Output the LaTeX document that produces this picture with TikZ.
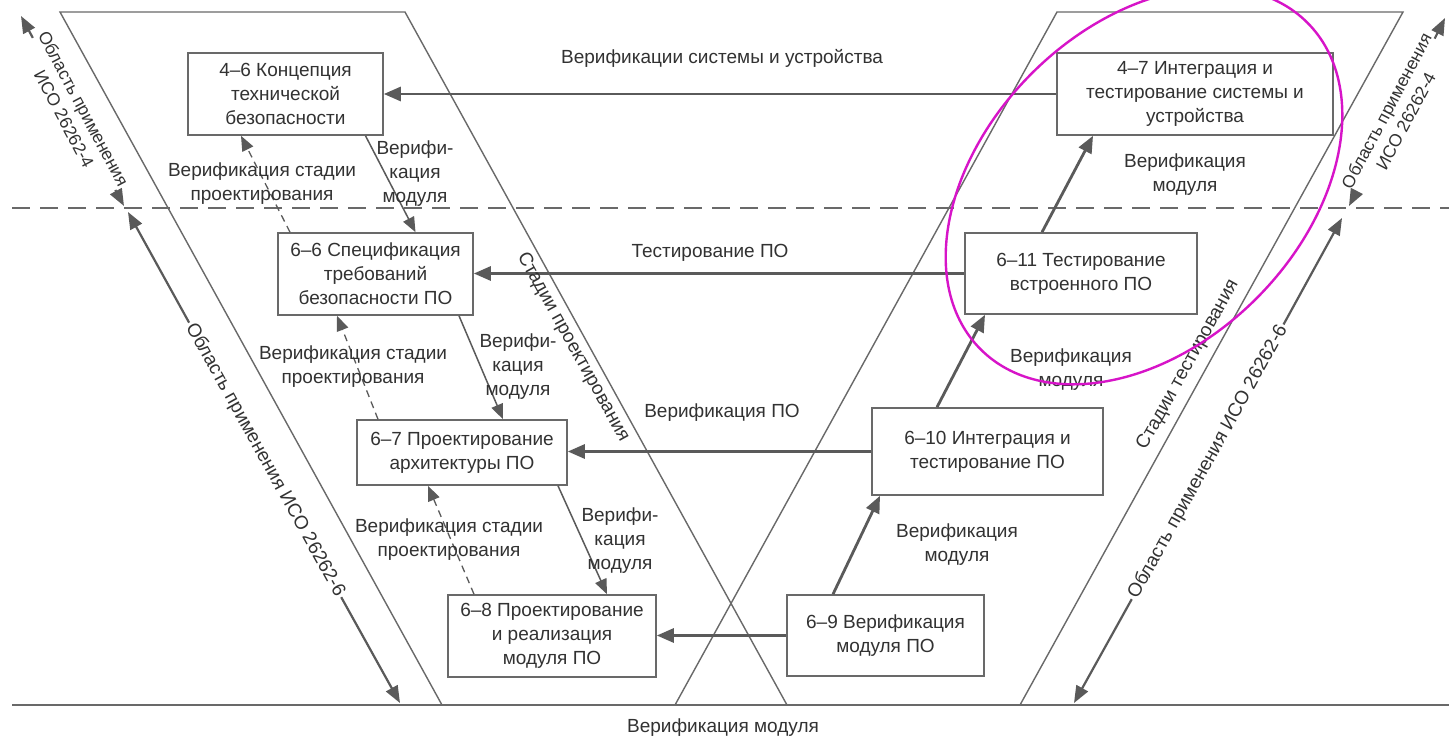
\documentclass[tikz,border=0pt]{standalone}
\usepackage{fontspec}
\setmainfont{Liberation Sans}
\usetikzlibrary{arrows.meta,calc}
\definecolor{ink}{RGB}{50,50,50}
\definecolor{edge}{RGB}{105,105,105}
\definecolor{arr}{RGB}{90,90,90}
\definecolor{ring}{RGB}{215,20,200}
\begin{document}
\begin{tikzpicture}[x=1pt,y=-1pt,
  font=\fontsize{19}{24}\selectfont, text=ink,
  box/.style={draw=edge, line width=1.6pt, fill=white, align=center, inner sep=0pt},
  frameline/.style={draw=edge, line width=1.4pt},
  lbl/.style={align=center, inner sep=1pt},
  harr/.style={draw=arr, line width=2.8pt, -{Triangle[length=17pt,width=14pt]}},
  uarr/.style={draw=arr, line width=2.8pt, -{Triangle[length=17pt,width=14pt]}},
  varr/.style={draw=arr, line width=1.5pt, -{Triangle[length=15pt,width=12pt]}},
  darr/.style={draw=arr, line width=1.3pt, dash pattern=on 7pt off 5pt, -{Triangle[length=15pt,width=12pt]}},
  rangearr/.style={draw=arr, line width=2.2pt, -{Triangle[length=17pt,width=13pt]}},
  rangetext/.style={align=center, inner sep=2pt}
]
\fill[white] (0,0) rectangle (1449,739);
\clip (0,0) rectangle (1449,739);

% design and test stage frames
\draw[frameline] (442,705) -- (60,12) -- (405,12) -- (787,705);
\draw[frameline] (675,705) -- (1057,12) -- (1403,12) -- (1020,705);
\draw[draw=edge, line width=1.8pt] (12,705) -- (1449,705);
\draw[draw=edge, line width=1.8pt, dash pattern=on 18pt off 10pt] (12,208) -- (1449,208);

% work products
\node[box, minimum width=195, minimum height=82] (b1) at (285.5,94) {4–6 Концепция\\технической\\безопасности};
\node[box, minimum width=195, minimum height=82] (b2) at (375.5,274) {6–6 Спецификация\\требований\\безопасности ПО};
\node[box, minimum width=210, minimum height=65] (b3) at (462,452.5) {6–7 Проектирование\\архитектуры ПО};
\node[box, minimum width=208, minimum height=82] (b4) at (552,636) {6–8 Проектирование\\и реализация\\модуля ПО};
\node[box, minimum width=197, minimum height=81] (b5) at (885.5,635.5) {6–9 Верификация\\модуля ПО};
\node[box, minimum width=231, minimum height=87] (b6) at (987.5,451.5) {6–10 Интеграция и\\тестирование ПО};
\node[box, minimum width=232, minimum height=81] (b7) at (1081,273.5) {6–11 Тестирование\\встроенного ПО};
\node[box, minimum width=276, minimum height=82] (b8) at (1195,94) {4–7 Интеграция и\\тестирование системы и\\устройства};

% verification flows between levels
\draw[harr] (b8.west) -- (b8.west -| b1.east);
\draw[harr] (b7.west) -- (b7.west -| b2.east);
\draw[harr] (b6.west) -- (b6.west -| b3.east);
\draw[harr] (b5.west) -- (b5.west -| b4.east);
\node[lbl] (t1) at (722,58) {Верификации системы и устройства};
\node[lbl] (t2) at (710,253) {Тестирование ПО};
\node[lbl] (t3) at (722,413) {Верификация ПО};
\node[lbl] (t4) at (723,728) {Верификация модуля};

% descending design steps
\draw[varr] ([xshift=80]b1.south) -- ([xshift=40]b2.north);
\draw[varr] ([xshift=83.5]b2.south) -- ([xshift=41]b3.north);
\draw[varr] ([xshift=96]b3.south) -- ([xshift=55]b4.north);
\node[lbl] (m1) at (415,174) {Верифи-\\кация\\модуля};
\node[lbl] (m2) at (518,367) {Верифи-\\кация\\модуля};
\node[lbl] (m3) at (620,541) {Верифи-\\кация\\модуля};

% design stage verification
\draw[darr] ([xshift=-85.5]b2.north) -- ([xshift=-44.5]b1.south);
\draw[darr] ([xshift=-84]b3.north) -- ([xshift=-38.5]b2.south);
\draw[darr] ([xshift=-78]b4.north) -- ([xshift=-34]b3.south);
\node[lbl] (s1) at (262,184) {Верификация стадии\\проектирования};
\node[lbl] (s2) at (353,367) {Верификация стадии\\проектирования};
\node[lbl] (s3) at (449,540) {Верификация стадии\\проектирования};

% ascending integration steps
\draw[uarr] ([xshift=-52.5]b5.north) -- ([xshift=-107.5]b6.south);
\draw[uarr] ([xshift=-50.5]b6.north) -- ([xshift=-96]b7.south);
\draw[uarr] ([xshift=-39]b7.north) -- ([xshift=-102]b8.south);
\node[lbl] (r1) at (957,545) {Верификация\\модуля};
\node[lbl] (r2) at (1071,370) {Верификация\\модуля};
\node[lbl] (r3) at (1185,175) {Верификация\\модуля};

% stage captions along the frames
\node[lbl, rotate=-61] (sp) at (573,347) {Стадии проектирования};
\node[lbl, rotate=61] (st) at (1188,365) {Стадии тестирования};

% scope of the standard parts: captions first, arrows run out from them
\coordinate (la) at (21,16);
\coordinate (lb) at (124,206);
\coordinate (lc) at (128,212);
\coordinate (ld) at (400,703);
\coordinate (ra) at (1445,18);
\coordinate (rb) at (1349,206);
\coordinate (rc) at (1342,218);
\coordinate (rd) at (1074,703);
\node[rangetext, rotate=-62, inner sep=0pt, font=\fontsize{17.5}{22}\selectfont] (la-t) at (74,114) {Область применения\\ИСО 26262-4};
\node[rangetext, rotate=-61] (lc-t) at (265,460) {Область применения ИСО 26262-6};
\node[rangetext, rotate=62, inner sep=0pt, font=\fontsize{17.5}{22}\selectfont] (ra-t) at (1396,116) {Область применения\\ИСО 26262-4};
\node[rangetext, rotate=61] (rc-t) at (1208,462) {Область применения ИСО 26262-6};
\draw[rangearr] (la-t) -- (la);
\draw[rangearr] (la-t) -- (lb);
\draw[rangearr] (lc-t) -- (lc);
\draw[rangearr] (lc-t) -- (ld);
\draw[rangearr] (ra-t) -- (ra);
\draw[rangearr] (ra-t) -- (rb);
\draw[rangearr] (rc-t) -- (rc);
\draw[rangearr] (rc-t) -- (rd);

% highlighted region
\coordinate (E) at (1144,186);
\draw[draw=ring, line width=2.4pt, rotate around={45:(E)}] (E) ellipse [x radius=231pt, y radius=159pt];
\end{tikzpicture}
\end{document}
